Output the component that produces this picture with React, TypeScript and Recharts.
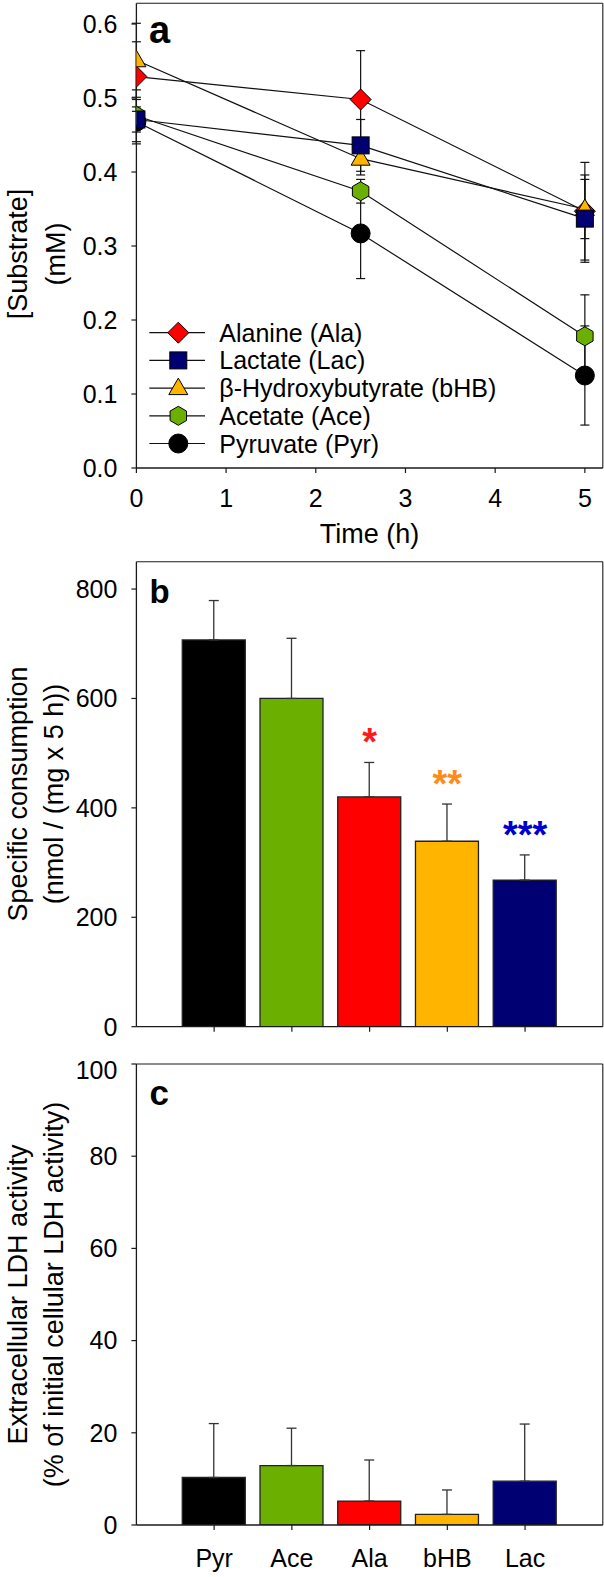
import React from 'react';
import {
  ComposedChart,
  Line,
  Bar,
  Cell,
  XAxis,
  YAxis,
  ErrorBar,
  ReferenceLine,
  LabelList,
} from 'recharts';

// ---------- Panel a : substrate concentration over time ----------
const times = [0, 2.5, 5];
const timeTicks = [0, 1, 2, 3, 4, 5];
const substrateTicks = [0, 0.1, 0.2, 0.3, 0.4, 0.5, 0.6];

const alaValues = [0.529, 0.498, 0.347];
const alaErrors = [0.047, 0.066, 0.066];
const lacValues = [0.471, 0.436, 0.337];
const lacErrors = [0.017, 0.035, 0.059];
const bhbValues = [0.551, 0.418, 0.35];
const bhbErrors = [0.05, 0.022, 0.04];
const aceValues = [0.476, 0.374, 0.178];
const aceErrors = [0.035, 0.016, 0.056];
const pyrValues = [0.468, 0.317, 0.125];
const pyrErrors = [0.03, 0.061, 0.067];

// ---------- Panels b & c : bars ----------
const categories = ['Pyr', 'Ace', 'Ala', 'bHB', 'Lac'];
const barColors = ['#000000', '#6BAF00', '#FF0000', '#FFB400', '#000072'];
const consumptionValues = [707, 600, 420, 339, 268];
const consumptionErrors = [72, 110, 63, 68, 46];
const consumptionTicks = [0, 200, 400, 600, 800];
const significance = ['', '', '*', '**', '***'];
const significanceColors: Record<string, string> = {
  '*': '#FF1A1A',
  '**': '#FF8C1A',
  '***': '#0000CC',
};
const ldhValues = [10.3, 12.9, 5.2, 2.3, 9.5];
const ldhErrors = [11.7, 8.1, 8.9, 5.3, 12.4];
const ldhTicks = [0, 20, 40, 60, 80, 100];

const FONT = '"Liberation Sans", Arial, Helvetica, sans-serif';
const AXIS = '#1a1a1a';

type Shape = 'diamond' | 'square' | 'triangle' | 'hexagon' | 'circle';

const series: { key: string; name: string; color: string; shape: Shape; values: number[]; errors: number[] }[] = [
  { key: 'ala', name: 'Alanine (Ala)', color: '#FF0000', shape: 'diamond', values: alaValues, errors: alaErrors },
  { key: 'lac', name: 'Lactate (Lac)', color: '#000072', shape: 'square', values: lacValues, errors: lacErrors },
  { key: 'bhb', name: 'β-Hydroxybutyrate (bHB)', color: '#FFB400', shape: 'triangle', values: bhbValues, errors: bhbErrors },
  { key: 'ace', name: 'Acetate (Ace)', color: '#6BAF00', shape: 'hexagon', values: aceValues, errors: aceErrors },
  { key: 'pyr', name: 'Pyruvate (Pyr)', color: '#000000', shape: 'circle', values: pyrValues, errors: pyrErrors },
];
// drawing order (last on top)
const drawOrder = ['pyr', 'ace', 'ala', 'bhb', 'lac'];

const timeData = times.map((t, i) => {
  const row: Record<string, number> = { t };
  series.forEach((s) => {
    row[s.key] = s.values[i];
    row[s.key + 'Err'] = s.errors[i];
  });
  return row;
});

const consumptionData = categories.map((name, i) => ({
  pos: i + 1,
  name,
  value: consumptionValues[i],
  err: [0, consumptionErrors[i]],
  errTop: consumptionValues[i] + consumptionErrors[i],
  sig: significance[i],
}));

const ldhData = categories.map((name, i) => ({
  pos: i + 1,
  name,
  value: ldhValues[i],
  err: [0, ldhErrors[i]],
}));

function Marker({ shape, cx, cy, fill }: { shape: Shape; cx: number; cy: number; fill: string }) {
  const common = { fill, stroke: '#000', strokeWidth: 1 };
  if (cx == null || cy == null || isNaN(cx) || isNaN(cy)) return null;
  switch (shape) {
    case 'diamond': {
      const r = 10.5;
      return <polygon {...common} points={`${cx},${cy - r} ${cx + r},${cy} ${cx},${cy + r} ${cx - r},${cy}`} />;
    }
    case 'square':
      return <rect {...common} x={cx - 8.5} y={cy - 8.5} width={17} height={17} />;
    case 'triangle':
      return <polygon {...common} points={`${cx},${cy - 10} ${cx + 9.5},${cy + 6.5} ${cx - 9.5},${cy + 6.5}`} />;
    case 'hexagon': {
      const r = 9.5;
      const pts = [-90, -30, 30, 90, 150, 210]
        .map((a) => {
          const rad = (a * Math.PI) / 180;
          return `${cx + r * Math.cos(rad)},${cy + r * Math.sin(rad)}`;
        })
        .join(' ');
      return <polygon {...common} points={pts} />;
    }
    default:
      return <circle {...common} cx={cx} cy={cy} r={9.5} />;
  }
}

const tickStyle = { fontSize: 25, fill: '#000', fontFamily: FONT };

function SigLabel(props: any) {
  const { x, y, value } = props;
  if (!value) return null;
  return (
    <text
      x={x}
      y={y - 7}
      textAnchor="middle"
      fontFamily={FONT}
      fontWeight="bold"
      fontSize={38}
      fill={significanceColors[value] || '#000'}
    >
      {value}
    </text>
  );
}

function PanelA() {
  return (
    <ComposedChart width={604} height={560} data={timeData} margin={{ top: 3.3, right: 1.2, bottom: 0, left: 0 }}>
      <XAxis
        type="number"
        dataKey="t"
        domain={[0, 5.2]}
        ticks={timeTicks}
        height={92}
        tickSize={5}
        tickMargin={16}
        tick={tickStyle}
        axisLine={{ stroke: AXIS, strokeWidth: 1.3 }}
        tickLine={{ stroke: AXIS, strokeWidth: 1.2 }}
        allowDataOverflow
      />
      <YAxis
        type="number"
        domain={[0, 0.628]}
        ticks={substrateTicks}
        width={136.4}
        tickSize={5}
        tickMargin={14}
        tick={tickStyle}
        tickFormatter={(v: number) => v.toFixed(1)}
        axisLine={{ stroke: AXIS, strokeWidth: 1.3 }}
        tickLine={{ stroke: AXIS, strokeWidth: 1.2 }}
        allowDataOverflow
      />
      <ReferenceLine y={0.628} stroke={AXIS} strokeWidth={1.1} ifOverflow="visible" />
      <ReferenceLine x={5.2} stroke={AXIS} strokeWidth={1.1} ifOverflow="visible" />
      {drawOrder.map((k) => {
        const s = series.find((x) => x.key === k)!;
        return (
          <Line
            key={s.key}
            type="linear"
            dataKey={s.key}
            stroke="#111"
            strokeWidth={1.2}
            isAnimationActive={false}
            activeDot={false}
            dot={(p: any) => (
              <Marker key={`${s.key}-${p.index}`} shape={s.shape} fill={s.color} cx={p.cx} cy={p.cy} />
            )}
          >
            <ErrorBar dataKey={s.key + 'Err'} width={4.5} stroke="#111" strokeWidth={1.2} direction="y" />
          </Line>
        );
      })}
    </ComposedChart>
  );
}

function PanelB() {
  return (
    <ComposedChart width={604} height={500} data={consumptionData} margin={{ top: 5.7, right: 1.2, bottom: 0, left: 0 }}>
      <XAxis
        type="number"
        dataKey="pos"
        domain={[0, 6]}
        ticks={[1, 2, 3, 4, 5]}
        height={29.3}
        tickSize={5}
        tickFormatter={() => ''}
        axisLine={{ stroke: AXIS, strokeWidth: 1.3 }}
        tickLine={{ stroke: AXIS, strokeWidth: 1.2 }}
      />
      <YAxis
        type="number"
        domain={[0, 850]}
        ticks={consumptionTicks}
        width={136.4}
        tickSize={5}
        tickMargin={14}
        tick={tickStyle}
        axisLine={{ stroke: AXIS, strokeWidth: 1.3 }}
        tickLine={{ stroke: AXIS, strokeWidth: 1.2 }}
        allowDataOverflow
      />
      <ReferenceLine y={850} stroke={AXIS} strokeWidth={1.1} ifOverflow="visible" />
      <ReferenceLine x={6} stroke={AXIS} strokeWidth={1.1} ifOverflow="visible" />
      <Bar dataKey="value" barSize={63} stroke="#222" strokeWidth={1.3} isAnimationActive={false}>
        {consumptionData.map((d, i) => (
          <Cell key={d.name} fill={barColors[i]} />
        ))}
        <ErrorBar dataKey="err" width={5} stroke="#333" strokeWidth={1.3} direction="y" />
      </Bar>
      <Line dataKey="errTop" stroke="none" dot={false} activeDot={false} isAnimationActive={false}>
        <LabelList dataKey="sig" content={SigLabel} />
      </Line>
    </ComposedChart>
  );
}

function PanelC() {
  return (
    <ComposedChart width={604} height={521} data={ldhData} margin={{ top: 8, right: 1.2, bottom: 0, left: 0 }}>
      <XAxis
        type="number"
        dataKey="pos"
        domain={[0, 6]}
        ticks={[1, 2, 3, 4, 5]}
        height={52}
        tickSize={5}
        tickMargin={19}
        tick={tickStyle}
        tickFormatter={(v: number) => categories[v - 1] ?? ''}
        axisLine={{ stroke: AXIS, strokeWidth: 1.3 }}
        tickLine={{ stroke: AXIS, strokeWidth: 1.2 }}
      />
      <YAxis
        type="number"
        domain={[0, 100]}
        ticks={ldhTicks}
        width={136.4}
        tickSize={5}
        tickMargin={14}
        tick={tickStyle}
        axisLine={{ stroke: AXIS, strokeWidth: 1.3 }}
        tickLine={{ stroke: AXIS, strokeWidth: 1.2 }}
        allowDataOverflow
      />
      <ReferenceLine y={100} stroke={AXIS} strokeWidth={1.1} ifOverflow="visible" />
      <ReferenceLine x={6} stroke={AXIS} strokeWidth={1.1} ifOverflow="visible" />
      <Bar dataKey="value" barSize={63} stroke="#222" strokeWidth={1.3} isAnimationActive={false}>
        {ldhData.map((d, i) => (
          <Cell key={d.name} fill={barColors[i]} />
        ))}
        <ErrorBar dataKey="err" width={5} stroke="#333" strokeWidth={1.3} direction="y" />
      </Bar>
    </ComposedChart>
  );
}

function RotTitle({ x, y, text }: { x: number; y: number; text: string }) {
  return (
    <text
      x={x}
      y={y}
      transform={`rotate(-90 ${x} ${y})`}
      textAnchor="middle"
      dominantBaseline="central"
      fontFamily={FONT}
      fontSize={27}
      fill="#000"
    >
      {text}
    </text>
  );
}

function Overlay() {
  const legendTop = 332.7;
  const legendStep = 27.7;
  return (
    <svg width={604} height={1577} style={{ position: 'absolute', left: 0, top: 0, pointerEvents: 'none' }}>
      {/* Panel a */}
      <text x={149} y={43} fontFamily={FONT} fontWeight="bold" fontSize={38} fill="#000">a</text>
      <RotTitle x={18} y={254} text="[Substrate]" />
      <RotTitle x={56} y={254} text="(mM)" />
      <text x={369.6} y={543} textAnchor="middle" fontFamily={FONT} fontSize={27} fill="#000">Time (h)</text>
      {series.map((s, i) => {
        const cy = legendTop + i * legendStep;
        return (
          <g key={s.key}>
            <line x1={149.3} x2={205} y1={cy} y2={cy} stroke="#111" strokeWidth={1.2} />
            <Marker shape={s.shape} fill={s.color} cx={178.3} cy={cy} />
            <text x={219.3} y={cy} dominantBaseline="central" fontFamily={FONT} fontSize={25} fill="#000">
              {s.name}
            </text>
          </g>
        );
      })}
      {/* Panel b */}
      <text x={149.5} y={602.7} fontFamily={FONT} fontWeight="bold" fontSize={33} fill="#000">b</text>
      <RotTitle x={18} y={794} text="Specific consumption" />
      <RotTitle x={54} y={794} text="(nmol / (mg x 5 h))" />
      {/* Panel c */}
      <text x={149.5} y={1104.8} fontFamily={FONT} fontWeight="bold" fontSize={35} fill="#000">c</text>
      <RotTitle x={18} y={1294.5} text="Extracellular LDH activity" />
      <RotTitle x={54} y={1294.5} text="(% of initial cellular LDH activity)" />
    </svg>
  );
}

export default function App() {
  return (
    <div style={{ position: 'absolute', left: 0, top: 0, width: 604, height: 1577, background: '#fff', fontFamily: FONT }}>
      <div style={{ position: 'absolute', left: 0, top: 0 }}>
        <PanelA />
      </div>
      <div style={{ position: 'absolute', left: 0, top: 556 }}>
        <PanelB />
      </div>
      <div style={{ position: 'absolute', left: 0, top: 1056 }}>
        <PanelC />
      </div>
      <Overlay />
    </div>
  );
}
